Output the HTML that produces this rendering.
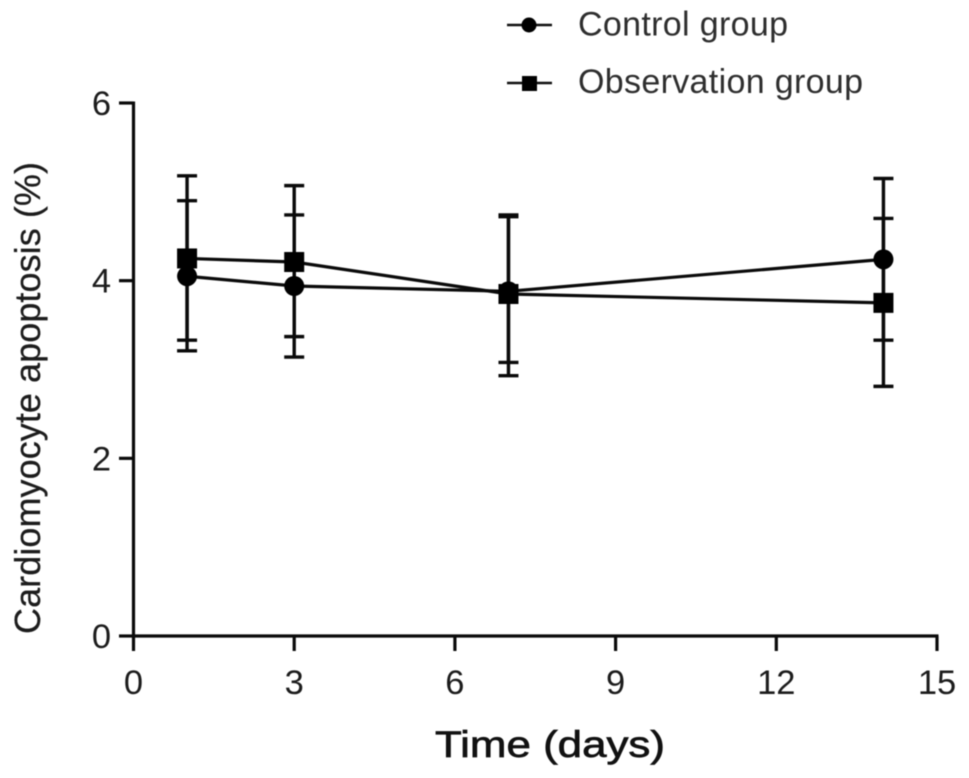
<!DOCTYPE html>
<html lang="en">
<head>
<meta charset="utf-8">
<title>Cardiomyocyte apoptosis over time</title>
<style>
html,body{margin:0;padding:0;background:#fff;}
svg{display:block;font-family:"Liberation Sans",Arial,sans-serif;}
.soft{filter:blur(0.55px);}
</style>
</head>
<body>
<svg id="chart" width="969" height="778" viewBox="0 0 969 778" xmlns="http://www.w3.org/2000/svg">
  <g id="plot" class="soft"></g>
  <g id="axes" class="soft"></g>
  <text class="soft" x="550" y="757" font-size="37" font-weight="400" stroke="#111" stroke-width="0.7" fill="#111" text-anchor="middle" textLength="230" lengthAdjust="spacingAndGlyphs">Time (days)</text>
  <text class="soft" transform="translate(40 398) rotate(-90)" font-size="36" fill="#1c1c1c" stroke="#1c1c1c" stroke-width="0.25" text-anchor="middle" textLength="472" lengthAdjust="spacing">Cardiomyocyte apoptosis (%)</text>
  <g class="soft">
    <g>
      <line x1="507" x2="552" y1="25" y2="25" stroke="#111" stroke-width="2.5"/>
      <circle cx="529" cy="25" r="7.5" fill="#000"/>
      <text x="578" y="35.5" font-size="34" fill="#2e2e2e" textLength="210" lengthAdjust="spacing">Control group</text>
    </g>
    <g>
      <line x1="507" x2="552" y1="83" y2="83" stroke="#111" stroke-width="2.5"/>
      <rect x="522" y="76" width="15" height="15" fill="#000"/>
      <text x="578" y="93" font-size="34" fill="#2e2e2e" textLength="285" lengthAdjust="spacing">Observation group</text>
    </g>
  </g>
</svg>
<script>
const days = [1, 3, 7, 14];
const controlMeans = [4.05, 3.94, 3.88, 4.24];
const controlUpper = [4.90, 4.74, 4.72, 5.15];
const controlLower = [3.21, 3.14, 3.08, 3.33];
const observationMeans = [4.25, 4.21, 3.85, 3.75];
const observationUpper = [5.18, 5.07, 4.74, 4.70];
const observationLower = [3.33, 3.37, 2.93, 2.81];
const xTicks = [0, 3, 6, 9, 12, 15];
const yTicks = [0, 2, 4, 6];

const NS = 'http://www.w3.org/2000/svg';
const xScale = v => 133.5 + v * (937 - 133.5) / 15;
const yScale = v => 636 - v * (636 - 103) / 6;

function make(parent, tag, attrs) {
  const el = document.createElementNS(NS, tag);
  for (const k in attrs) el.setAttribute(k, attrs[k]);
  parent.appendChild(el);
  return el;
}

const axes = document.getElementById('axes');
const plot = document.getElementById('plot');
const ink = '#0a0a0a';

const xAxisLine = make(axes, 'line', {x1: xScale(0) - 1.5, x2: xScale(15) + 1.5, y1: yScale(0), y2: yScale(0), stroke: ink, 'stroke-width': 3.2});


const yAxisLine = make(axes, 'line', {x1: xScale(0), x2: xScale(0), y1: yScale(6) - 1.5, y2: yScale(0) + 1.5, stroke: ink, 'stroke-width': 3.2});



xTicks.forEach(t => {
  const tick = make(axes, 'line', {x1: xScale(t), x2: xScale(t), y1: yScale(0), y2: 651, stroke: ink, 'stroke-width': 3.2});
  
  
  const label = make(axes, 'text', {x: xScale(t), y: 694, 'font-size': 34.5, fill: '#1c1c1c', 'text-anchor': 'middle'});
  label.textContent = String(t);
  
  
});

yTicks.forEach(t => {
  const tick = make(axes, 'line', {x1: 119, x2: xScale(0), y1: yScale(t), y2: yScale(t), stroke: ink, 'stroke-width': 3.2});
  
  
  const label = make(axes, 'text', {x: 111, y: yScale(t) + 12, 'font-size': 34.5, fill: '#1c1c1c', 'text-anchor': 'end'});
  label.textContent = String(t);
  
  
});

function drawErrorBars(upper, lower, seriesName) {
  days.forEach((d, i) => {
    const cx = xScale(d);
    const stem = make(plot, 'line', {x1: cx, x2: cx, y1: yScale(upper[i]), y2: yScale(lower[i]), stroke: ink, 'stroke-width': 3.4});
    
    
    [upper[i], lower[i]].forEach(v => {
      const cap = make(plot, 'line', {x1: cx - 10, x2: cx + 10, y1: yScale(v), y2: yScale(v), stroke: ink, 'stroke-width': 3.4});
      
      
    });
  });
}

function drawLine(means, seriesName) {
  const pts = days.map((d, i) => xScale(d) + ',' + yScale(means[i])).join(' ');
  const line = make(plot, 'polyline', {points: pts, fill: 'none', stroke: ink, 'stroke-width': 3.2});
  
  
}

drawErrorBars(controlUpper, controlLower, 'control');
drawErrorBars(observationUpper, observationLower, 'observation');
drawLine(controlMeans, 'control');
drawLine(observationMeans, 'observation');

days.forEach((d, i) => {
  const dot = make(plot, 'circle', {cx: xScale(d), cy: yScale(controlMeans[i]), r: 10, fill: '#000'});
  
  
});
days.forEach((d, i) => {
  const sq = make(plot, 'rect', {x: xScale(d) - 10, y: yScale(observationMeans[i]) - 10, width: 20, height: 20, fill: '#000'});
  
  
});
</script>
</body>
</html>
